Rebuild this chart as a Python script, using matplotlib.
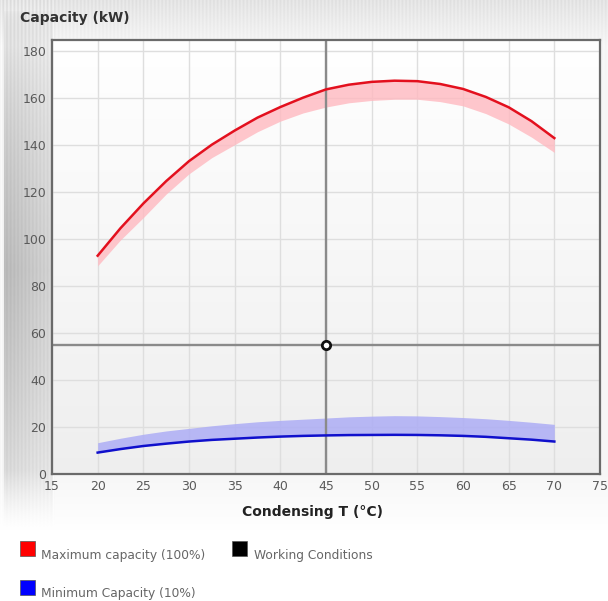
import matplotlib.pyplot as plt
import numpy as np
from matplotlib.patches import Rectangle

# Condensing temperature (°C)
cond_t = [20, 22.5, 25, 27.5, 30, 32.5, 35, 37.5, 40, 42.5, 45, 47.5,
          50, 52.5, 55, 57.5, 60, 62.5, 65, 67.5, 70]

# Maximum capacity (100%): curve and lower edge of its band (kW)
max_cap = [92.8, 104.5, 115, 124.5, 133, 140, 146, 151.5, 156, 160, 163.5, 165.5,
           166.7, 167.2, 167, 165.8, 163.7, 160.3, 155.9, 150, 142.8]
max_cap_low = [88.5, 99.5, 109, 119, 127.6, 134.5, 140, 145.5, 150, 153.5, 156, 157.8,
               158.8, 159.3, 159.3, 158.3, 156.5, 153.2, 148.8, 143.2, 136.7]

# Minimum capacity (10%): curve and upper edge of its band (kW)
min_cap = [9.1, 10.6, 11.9, 12.9, 13.8, 14.5, 15.0, 15.5, 15.9, 16.2, 16.4, 16.55,
           16.6, 16.65, 16.6, 16.45, 16.2, 15.8, 15.2, 14.6, 13.8]
min_cap_high = [13.3, 15.2, 16.9, 18.3, 19.4, 20.5, 21.4, 22.2, 22.8, 23.3, 23.8, 24.3,
                24.6, 24.8, 24.7, 24.4, 24.0, 23.5, 22.8, 22.0, 21.1]

# Working point
work_t = 45
work_cap = 55

x_ticks = list(range(15, 80, 5))
y_ticks = list(range(0, 200, 20))

W, H = 608, 601
fig = plt.figure(figsize=(W / 100, H / 100), dpi=100)

# page background: grey shading on the left and top, white below
bg = fig.add_axes([0, 0, 1, 1], zorder=-10)
yy, xx = np.mgrid[0:H, 0:W].astype(float)
vprof = np.clip(1 - np.abs(yy - 270) / 260.0, 0, 1) ** 0.5
left = np.where(xx < 4, 0.0, 0.24 - 0.10 * np.clip((xx - 4) / 48.0, 0, 1))
left = np.where(xx > 52, 0.0, left)
top = 0.07 * np.clip(1 - yy / 45.0, 0, 1)
stripes = 0.02 * np.sin(xx * 1.7) * (np.exp(-yy / 50.0) + (xx < 55) * 0.8)
lower_fade = np.clip((yy - 470) / 60.0, 0, 1)
val = 0.965 - left * vprof - top + stripes
val = val * (1 - lower_fade) + 1.0 * lower_fade
val = np.clip(val, 0, 1)
bg.imshow(np.dstack([val, val, val]), aspect='auto', extent=[0, 1, 0, 1])
bg.set_xlim(0, 1)
bg.set_ylim(0, 1)
bg.axis('off')

ax = fig.add_axes([52 / W, 1 - 474 / H, 548 / W, 434 / H])
ax.set_xlim(15, 75)
ax.set_ylim(0, 184.5)

# plot area: white at the top fading to light grey
grad = np.linspace(1.0, 0.935, 200)[:, None] * np.ones((200, 2))
ax.imshow(np.dstack([grad, grad, grad]), aspect='auto',
          extent=[15, 75, 0, 184.5], origin='upper', zorder=0)

ax.set_xticks(x_ticks)
ax.set_yticks(y_ticks)
ax.grid(True, color='#dedede', linewidth=1.0, zorder=1)
ax.tick_params(length=0, labelsize=9, labelcolor='#5a5a5a', pad=4)
for s in ax.spines.values():
    s.set_color('#6a6a6a')
    s.set_linewidth(1.6)

# bands and curves
ax.fill_between(cond_t, max_cap_low, max_cap, color='#ffb9c0', alpha=0.8,
                linewidth=0, zorder=2)
ax.plot(cond_t, max_cap, color='#e3101e', linewidth=1.8, zorder=3,
        solid_joinstyle='round')
ax.fill_between(cond_t, min_cap, min_cap_high, color='#adadf5', alpha=0.85,
                linewidth=0, zorder=2)
ax.plot(cond_t, min_cap, color='#1010cc', linewidth=1.8, zorder=3,
        solid_joinstyle='round')

# working point with crosshair
ax.axvline(work_t, color='#8a8a8a', linewidth=1.7, zorder=2.5)
ax.axhline(work_cap, color='#8a8a8a', linewidth=1.7, zorder=2.5)
ax.plot([work_t], [work_cap], marker='o', markersize=6, markerfacecolor='white',
        markeredgecolor='#111111', markeredgewidth=2, zorder=4)

fig.text(20 / W, 1 - 18 / H, 'Capacity (kW)', fontsize=10, fontweight='bold',
         color='#333333', va='center', ha='left')
fig.text(313 / W, 1 - 512 / H, 'Condensing T (°C)', fontsize=10,
         fontweight='bold', color='#222222', va='center', ha='center')

# legend
legend_items = [
    (20, 541, '#ff0000', 'Maximum capacity (100%)', 41, 555),
    (232, 541, '#000000', 'Working Conditions', 254, 555),
    (20, 580, '#0000ff', 'Minimum Capacity (10%)', 41, 594),
]
for sx, sy, col, label, tx, ty in legend_items:
    fig.patches.append(Rectangle((sx / W, 1 - (sy + 15) / H), 15 / W, 15 / H,
                                 transform=fig.transFigure, facecolor=col,
                                 edgecolor='#555555', linewidth=0.5))
    fig.text(tx / W, 1 - ty / H, label, fontsize=8.8, color='#666666',
             va='center', ha='left')

fig.savefig('out.png', dpi=100)
